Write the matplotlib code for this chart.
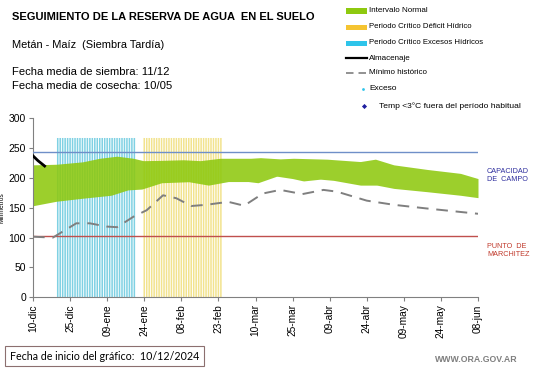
import matplotlib
matplotlib.use("Agg")
import matplotlib.pyplot as plt
from matplotlib.patches import Rectangle
from matplotlib.lines import Line2D
import numpy as np

plt.rcParams['font.family'] = ['Liberation Sans', 'DejaVu Sans']

# ---- data ----
tick_days = [0, 15, 30, 45, 60, 75, 90, 105, 120, 135, 150, 165, 180]
tick_labels = ["10-dic", "25-dic", "09-ene", "24-ene", "08-feb", "23-feb", "10-mar",
               "25-mar", "09-abr", "24-abr", "09-may", "24-may", "08-jun"]

upper_days = [0, 9.5, 20, 27, 34, 40.6, 44.6, 52, 60.8, 67.6, 75.7, 88, 92, 100, 105.4,
              118.9, 132.4, 138.5, 145.9, 159.4, 172.9, 180]
upper_vals = [222, 223, 227, 233, 236.5, 233, 229, 229.5, 230.5, 229, 233, 233, 234, 232,
              233, 231.5, 227.5, 231.5, 222, 214.3, 207.7, 199]
lower_days = [0, 9.5, 20, 31.6, 38.4, 44, 52, 63, 71, 79, 87, 91, 98.6, 105, 109.4, 116.2,
              121.6, 132.4, 139.1, 146, 159.4, 172.9, 180]
lower_vals = [153.5, 161, 166, 171, 180, 181.4, 192, 193.7, 188, 194, 194, 192, 203, 199,
              195, 198, 196, 188, 188, 182.5, 177, 171, 167]

min_days = [0, 8, 17.5, 23, 29.7, 34, 40.6, 46, 52.6, 58, 64, 70, 79, 85.4, 93, 100, 109,
            117.5, 123, 135, 146, 159, 173, 180]
min_vals = [101.6, 100, 124, 124, 118.6, 117.5, 135, 146, 171, 166, 153, 155, 160, 153.5,
            174, 180, 173, 180, 177, 162, 155, 149, 143, 140]

alm_days = [0, 2, 4.7]
alm_vals = [237, 229, 220]

exceso_days = list(range(10, 42))
deficit_days = list(range(45, 77))
bar_height = 267

capacidad_campo = 243
punto_marchitez = 102

legend_labels = ['Intervalo Normal', 'Periodo Crítico Déficit Hídrico',
                 'Periodo Crítico Excesos Hídricos', 'Almacenaje', 'Mínimo histórico',
                 'Exceso', 'Temp <3°C fuera del período habitual']

# ---- figure ----
W, H = 541, 368
fig = plt.figure(figsize=(W / 100, H / 100), dpi=100)
ax = fig.add_axes([33 / W, 1 - 297.3 / H, 445 / W, 179 / H])

green = '#8ec90f'
ax.bar(exceso_days, [bar_height] * len(exceso_days), width=0.62, color='#7fd1e3',
       edgecolor='none', zorder=1, snap=False)
ax.bar(deficit_days, [bar_height] * len(deficit_days), width=0.62, color='#f2e38e',
       edgecolor='none', zorder=1, snap=False)

xg = np.linspace(0, 180, 361)
up = np.interp(xg, upper_days, upper_vals)
lo = np.interp(xg, lower_days, lower_vals)
ax.fill_between(xg, lo, up, color=green, alpha=0.88, linewidth=0, zorder=2)

ax.axhline(capacidad_campo, color='#6f8fc8', lw=1.0, zorder=3)
ax.axhline(punto_marchitez, color='#c0504d', lw=1.0, zorder=3)

ax.plot(min_days, min_vals, color='#7f7f7f', lw=1.4, dashes=(6, 4), zorder=4)
ax.plot(alm_days, alm_vals, color='black', lw=2.0, zorder=5)

ax.set_xlim(0, 180)
ax.set_ylim(0, 300)
ax.set_xticks(tick_days)
ax.set_xticklabels(tick_labels, rotation=90, fontsize=7.3)
ax.set_yticks([0, 50, 100, 150, 200, 250, 300])
ax.tick_params(axis='y', labelsize=7.5, length=3, color='#808080', pad=2)
ax.tick_params(axis='x', length=3, color='#808080', pad=2)
for s in ['top', 'right']:
    ax.spines[s].set_visible(False)
for s in ['left', 'bottom']:
    ax.spines[s].set_color('#808080')
ax.set_ylabel('Milímetros', fontsize=4.8, labelpad=2)

# ---- texts ----
fig.text(12 / W, 1 - 17 / H, 'SEGUIMIENTO DE LA RESERVA DE AGUA  EN EL SUELO',
         fontsize=8.0, fontweight='bold', va='center', ha='left')
fig.text(12 / W, 1 - 45 / H, 'Metán - Maíz  (Siembra Tardía)', fontsize=7.9,
         va='center', ha='left')
fig.text(12 / W, 1 - 72 / H, 'Fecha media de siembra: 11/12', fontsize=8.1,
         va='center', ha='left')
fig.text(12 / W, 1 - 86 / H, 'Fecha media de cosecha: 10/05', fontsize=8.1,
         va='center', ha='left')

fig.text(487 / W, 1 - 175 / H, 'CAPACIDAD\nDE  CAMPO', fontsize=5.2, color='#2e2e9e',
         va='center', ha='left', linespacing=1.2)
fig.text(487 / W, 1 - 251 / H, 'PUNTO  DE\nMARCHITEZ', fontsize=5.2, color='#c0392b',
         va='center', ha='left', linespacing=1.2)

# legend (drawn in figure pixel coordinates)
def fx(px):
    return px / W

def fy(py):
    return 1 - py / H

rows_y = [11, 27, 43, 58, 73, 89, 106]
patch_cols = ['#8ec90f', '#f5c431', '#2ec4ea']
for i, c in enumerate(patch_cols):
    fig.patches.append(Rectangle((fx(346), fy(rows_y[i] + 2.5)), 21 / W, 5 / H,
                                 facecolor=c, edgecolor='none', transform=fig.transFigure))
fig.lines.append(Line2D([fx(346), fx(367)], [fy(rows_y[3]), fy(rows_y[3])], color='black',
                        lw=1.6, transform=fig.transFigure))
fig.lines.append(Line2D([fx(346), fx(367)], [fy(rows_y[4]), fy(rows_y[4])], color='#7f7f7f',
                        lw=1.2, dashes=(4.5, 3), transform=fig.transFigure))
fig.lines.append(Line2D([fx(363)], [fy(rows_y[5])], color='none', marker='o', markersize=2,
                        markerfacecolor='#2ec4ea', markeredgecolor='none',
                        transform=fig.transFigure))
fig.lines.append(Line2D([fx(364)], [fy(rows_y[6])], color='none', marker='D',
                        markersize=2.6, markerfacecolor='#1f1fa0', markeredgecolor='none',
                        transform=fig.transFigure))
text_x = [369, 369, 369, 369, 369, 369, 379]
text_fs = [5.8, 5.6, 5.6, 5.8, 5.8, 6.0, 6.1]
for i, lab in enumerate(legend_labels):
    fig.text(fx(text_x[i]), fy(rows_y[i]), lab, fontsize=text_fs[i], va='center', ha='left')

# bottom box
fig.text(10 / W, 1 - 356 / H, 'Fecha de inicio del gráfico:  10/12/2024', fontsize=7.7,
         family=['Lato', 'DejaVu Sans'], va='center', ha='left',
         bbox=dict(boxstyle='square,pad=0.45', facecolor='white', edgecolor='#8c6f6f', lw=0.8))
fig.text(518 / W, 1 - 359 / H, 'WWW.ORA.GOV.AR', fontsize=6.3, color='#7f7f7f',
         fontweight='bold', va='center', ha='right')

fig.savefig('out.png', dpi=100)
